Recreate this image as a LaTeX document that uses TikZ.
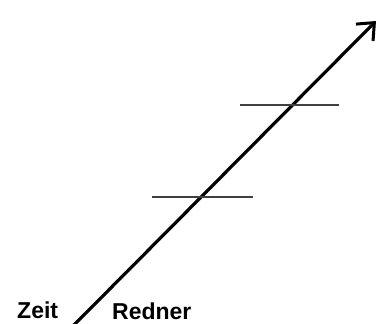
\documentclass[tikz,border=0pt]{standalone}
\usepackage{fontspec}
\setmainfont{Liberation Sans}
\usetikzlibrary{arrows.meta}
\begin{document}
\begin{tikzpicture}[x=1pt,y=1pt,
  lbl/.style={font=\fontsize{23}{26}\selectfont\bfseries, inner sep=0pt, anchor=base west},
  tick/.style={draw=black!75, line width=1.5pt},
  axis/.style={draw=black, line width=3.2pt, -{Straight Barb[length=14pt,width=24pt,line width=3pt]}}]
\useasboundingbox (0,0) rectangle (378,324);
\coordinate (s) at (73,-2);
\coordinate (e) at (376,303);
\draw[axis] (s) -- (e);
\coordinate (a1) at (240,219); \coordinate (a2) at (339,219);
\coordinate (b1) at (152,127); \coordinate (b2) at (253,127);
\draw[tick] (a1) -- (a2);
\draw[tick] (b1) -- (b2);
\node[lbl] (zeit) at (17,5) {Zeit};
\node[lbl] (redner) at (112,4) {Redner};
\end{tikzpicture}
\end{document}
